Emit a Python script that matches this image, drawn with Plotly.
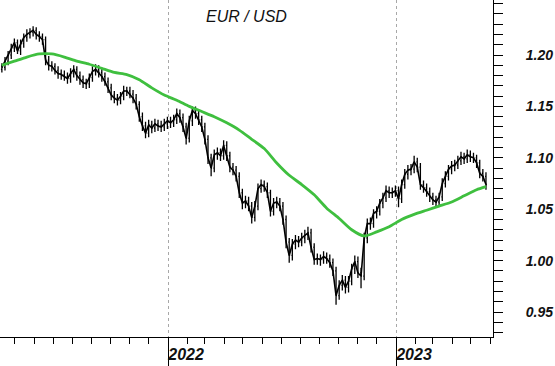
import pandas as pd
import plotly.graph_objects as go

# ---- data ----
bar_start = "2021-04-10"
bar_step = "5D"
first_open = 1.186
close = [
    1.188, 1.194, 1.200, 1.207, 1.212, 1.204, 1.211, 1.217, 1.220, 1.222,
    1.224, 1.220, 1.218, 1.215, 1.195, 1.190, 1.189, 1.185, 1.182, 1.181,
    1.179, 1.177, 1.182, 1.186, 1.180, 1.176, 1.173, 1.172, 1.178, 1.184,
    1.186, 1.183, 1.179, 1.174, 1.168, 1.161, 1.158, 1.156, 1.160, 1.165,
    1.165, 1.162, 1.158, 1.152, 1.140, 1.131, 1.124, 1.132, 1.129, 1.133,
    1.131, 1.130, 1.133, 1.136, 1.134, 1.137, 1.143, 1.139, 1.130, 1.119,
    1.136, 1.146, 1.143, 1.137, 1.130, 1.118, 1.100, 1.090, 1.103, 1.105,
    1.102, 1.112, 1.102, 1.091, 1.088, 1.082, 1.066, 1.056, 1.058, 1.053,
    1.042, 1.053, 1.070, 1.074, 1.072, 1.066, 1.048, 1.056, 1.057, 1.053,
    1.040, 1.018, 1.005, 1.016, 1.020, 1.018, 1.022, 1.025, 1.027, 1.013,
    1.001, 1.002, 1.001, 1.004, 1.002, 0.998, 0.990, 0.966, 0.976, 0.981,
    0.974, 0.980, 0.992, 0.999, 0.988, 0.985, 1.022, 1.036, 1.036, 1.046,
    1.048, 1.056, 1.061, 1.068, 1.066, 1.066, 1.068, 1.060, 1.074, 1.084,
    1.088, 1.089, 1.096, 1.091, 1.074, 1.071, 1.067, 1.062, 1.059, 1.057,
    1.062, 1.075, 1.082, 1.089, 1.092, 1.093, 1.097, 1.101, 1.099, 1.103,
    1.101, 1.100, 1.095, 1.085, 1.082, 1.074,
]
high = [
    1.192, 1.198, 1.204, 1.211, 1.216, 1.215, 1.215, 1.221, 1.225, 1.226,
    1.228, 1.227, 1.223, 1.221, 1.218, 1.199, 1.194, 1.192, 1.189, 1.186,
    1.185, 1.183, 1.187, 1.190, 1.189, 1.184, 1.180, 1.177, 1.182, 1.189,
    1.191, 1.190, 1.187, 1.183, 1.178, 1.172, 1.165, 1.162, 1.164, 1.170,
    1.169, 1.169, 1.166, 1.162, 1.155, 1.144, 1.135, 1.137, 1.136, 1.138,
    1.137, 1.136, 1.138, 1.140, 1.140, 1.142, 1.148, 1.147, 1.143, 1.134,
    1.141, 1.150, 1.150, 1.147, 1.141, 1.134, 1.122, 1.104, 1.108, 1.110,
    1.109, 1.117, 1.116, 1.106, 1.095, 1.092, 1.086, 1.070, 1.063, 1.062,
    1.057, 1.058, 1.075, 1.079, 1.078, 1.076, 1.069, 1.061, 1.062, 1.061,
    1.057, 1.044, 1.022, 1.021, 1.025, 1.024, 1.027, 1.030, 1.033, 1.031,
    1.017, 1.007, 1.006, 1.009, 1.008, 1.006, 1.002, 0.994, 0.981, 0.986,
    0.985, 0.985, 0.997, 1.005, 1.004, 0.993, 1.027, 1.041, 1.042, 1.050,
    1.053, 1.060, 1.066, 1.073, 1.072, 1.071, 1.073, 1.072, 1.079, 1.089,
    1.093, 1.094, 1.102, 1.100, 1.095, 1.078, 1.075, 1.071, 1.066, 1.063,
    1.066, 1.080, 1.087, 1.093, 1.097, 1.098, 1.102, 1.106, 1.105, 1.108,
    1.107, 1.105, 1.103, 1.098, 1.089, 1.086,
]
low = [
    1.183, 1.185, 1.190, 1.196, 1.203, 1.201, 1.200, 1.207, 1.213, 1.216,
    1.218, 1.215, 1.213, 1.210, 1.190, 1.185, 1.184, 1.181, 1.177, 1.176,
    1.175, 1.172, 1.173, 1.178, 1.175, 1.171, 1.168, 1.167, 1.168, 1.174,
    1.180, 1.178, 1.174, 1.170, 1.163, 1.156, 1.153, 1.151, 1.152, 1.156,
    1.160, 1.158, 1.153, 1.147, 1.135, 1.126, 1.119, 1.120, 1.124, 1.125,
    1.126, 1.125, 1.126, 1.128, 1.129, 1.130, 1.133, 1.134, 1.125, 1.113,
    1.115, 1.131, 1.138, 1.132, 1.125, 1.113, 1.094, 1.082, 1.086, 1.098,
    1.097, 1.098, 1.097, 1.086, 1.083, 1.077, 1.061, 1.050, 1.051, 1.048,
    1.036, 1.038, 1.049, 1.066, 1.067, 1.061, 1.043, 1.044, 1.051, 1.048,
    1.035, 1.012, 0.998, 1.000, 1.011, 1.013, 1.014, 1.017, 1.020, 1.008,
    0.996, 0.996, 0.995, 0.997, 0.997, 0.993, 0.985, 0.957, 0.962, 0.971,
    0.968, 0.969, 0.976, 0.987, 0.983, 0.973, 0.981, 1.017, 1.030, 1.032,
    1.041, 1.044, 1.051, 1.057, 1.061, 1.061, 1.062, 1.052, 1.056, 1.070,
    1.079, 1.083, 1.085, 1.086, 1.069, 1.066, 1.062, 1.057, 1.054, 1.052,
    1.053, 1.058, 1.071, 1.078, 1.084, 1.087, 1.089, 1.093, 1.094, 1.095,
    1.096, 1.095, 1.090, 1.080, 1.077, 1.069,
]
ma_start = "2021-04-10"
ma_step = "20D"
ma_last_date = "2023-05-25"
ma200 = [
    1.190, 1.194, 1.198, 1.201, 1.201, 1.198, 1.194, 1.191, 1.187, 1.183,
    1.181, 1.176, 1.168, 1.161, 1.156, 1.150, 1.145, 1.140, 1.134, 1.127,
    1.118, 1.109, 1.095, 1.083, 1.074, 1.064, 1.051, 1.041, 1.030, 1.024,
    1.028, 1.033, 1.040, 1.045, 1.049, 1.053, 1.057, 1.063, 1.069, 1.072,
]
title_text = "EUR / USD"
x_range = ["2021-04-07", "2023-06-05 06:00"]
y_range = [0.9257, 1.2535]
year_tick0 = "2022-01-01"

# ---- derived ----
bar_dates = pd.date_range(bar_start, periods=len(close), freq=bar_step)
open_ = [first_open] + close[:-1]
ma_dates = list(pd.date_range(ma_start, periods=len(ma200) - 1, freq=ma_step)) + [pd.Timestamp(ma_last_date)]

label_font = dict(family="Liberation Sans, Arial", size=14, color="#111111",
                  style="italic", weight="bold")

fig = go.Figure()
fig.add_trace(go.Ohlc(
    x=bar_dates, open=open_, high=high, low=low, close=close,
    increasing=dict(line=dict(color="black", width=1.3)),
    decreasing=dict(line=dict(color="black", width=1.3)),
    tickwidth=0.3, showlegend=False, hoverinfo="skip",
))
fig.add_trace(go.Scatter(
    x=bar_dates, y=close, mode="lines",
    line=dict(color="black", width=1.6),
    showlegend=False, hoverinfo="skip",
))
fig.add_trace(go.Scatter(
    x=ma_dates, y=ma200, mode="lines",
    line=dict(color="#3fbf3f", width=2.8, shape="spline", smoothing=0.6),
    showlegend=False, hoverinfo="skip",
))

fig.add_annotation(
    text=title_text, xref="paper", yref="paper", x=0.50, y=0.95,
    xanchor="center", yanchor="middle", showarrow=False,
    font=dict(family="Liberation Sans, Arial", size=16, color="#111111", style="italic"),
)

fig.update_layout(
    width=555, height=366,
    margin=dict(l=0, r=62, t=0, b=29, autoexpand=False),
    paper_bgcolor="white", plot_bgcolor="white",
    showlegend=False,
)
fig.update_xaxes(
    type="date", range=x_range, automargin=False,
    rangeslider=dict(visible=False),
    showline=True, linecolor="black", linewidth=1,
    ticks="outside", ticklen=29, tickcolor="black", tickwidth=1,
    tick0=year_tick0, dtick="M12", tickformat="%Y",
    ticklabelshift=18, ticklabelstandoff=-26,
    tickfont=dict(label_font, size=16),
    showgrid=True, gridcolor="#a8a8a8", griddash="dot", gridwidth=1,
    minor=dict(dtick="M1", ticks="outside", ticklen=6, tickcolor="black", showgrid=False),
    zeroline=False,
)
fig.update_yaxes(
    side="right", range=y_range, automargin=False,
    showline=True, linecolor="black", linewidth=1,
    ticks="outside", ticklen=9, tickcolor="black",
    tick0=0.95, dtick=0.05, tickformat=".2f",
    ticklabelstandoff=20,
    tickfont=label_font,
    showgrid=False, zeroline=False,
    minor=dict(dtick=0.01, ticks="outside", ticklen=9, tickcolor="black", showgrid=False),
)

fig.write_html(
    "out.html",
    config={"displayModeBar": False, "staticPlot": True},
    post_script="document.body.style.margin='0';document.body.style.overflow='hidden';",
)
